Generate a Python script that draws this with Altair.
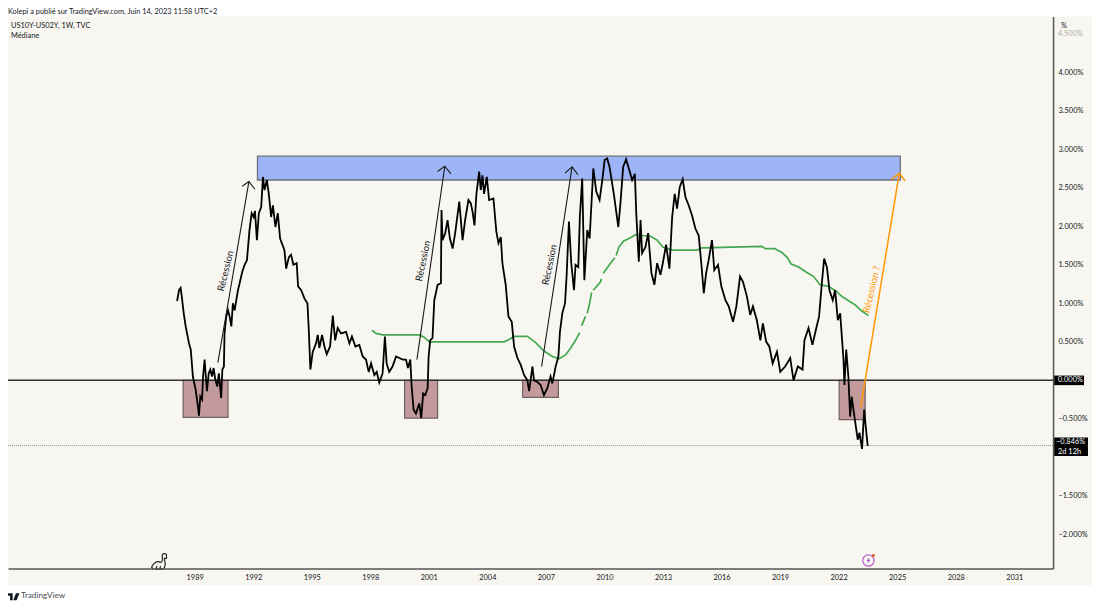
import altair as alt
import pandas as pd

BLACK_YEARS = [1988.10,1988.20,1988.28,1988.34,1988.44,1988.54,1988.71,1988.80,1988.91,1989.05,1989.17,1989.22,1989.29,1989.38,1989.43,1989.51,1989.56,1989.63,1989.72,1989.80,1989.89,1989.97,1990.06,1990.16,1990.24,1990.36,1990.42,1990.50,1990.53,1990.62,1990.71,1990.79,1990.88,1990.96,1991.05,1991.22,1991.34,1991.44,1991.56,1991.68,1991.81,1991.92,1992.02,1992.09,1992.19,1992.29,1992.41,1992.50,1992.58,1992.70,1992.80,1992.92,1993.01,1993.14,1993.26,1993.38,1993.60,1993.69,1993.83,1993.94,1994.06,1994.23,1994.30,1994.46,1994.63,1994.78,1994.85,1994.93,1995.05,1995.22,1995.31,1995.39,1995.53,1995.65,1995.77,1995.94,1996.08,1996.20,1996.33,1996.50,1996.76,1996.93,1997.06,1997.24,1997.44,1997.61,1997.78,1997.92,1998.04,1998.21,1998.33,1998.46,1998.63,1998.75,1998.84,1998.97,1999.14,1999.32,1999.49,1999.66,1999.83,1999.93,2000.05,2000.12,2000.22,2000.34,2000.51,2000.61,2000.71,2000.82,2000.94,2000.99,2001.07,2001.19,2001.28,2001.36,2001.45,2001.62,2001.65,2001.70,2001.84,2001.96,2002.08,2002.22,2002.35,
2002.56,2002.73,2002.86,2003.03,2003.15,2003.24,2003.34,2003.44,2003.58,2003.66,2003.75,2003.83,2003.97,2004.09,2004.31,2004.35,2004.46,2004.57,2004.69,2004.77,2004.94,2005.08,2005.25,2005.37,2005.54,2005.71,2005.88,2006.05,2006.14,2006.31,2006.39,2006.56,2006.73,2006.90,2007.07,2007.24,2007.33,2007.50,2007.64,2007.72,2007.84,2007.98,2008.06,2008.18,2008.30,2008.44,2008.52,2008.66,2008.74,2008.86,2008.97,2009.12,2009.24,2009.43,2009.58,2009.75,2009.89,2010.01,2010.14,2010.26,2010.48,2010.71,2010.82,2010.96,2011.11,2011.25,2011.42,2011.56,2011.63,2011.76,2011.85,2011.93,2012.10,2012.24,2012.41,2012.56,2012.70,2012.87,2012.99,2013.16,2013.33,2013.47,2013.60,2013.72,2013.86,2014.01,2014.15,2014.32,2014.49,2014.66,
2014.83,2014.97,2015.09,2015.21,2015.34,2015.51,2015.63,2015.82,2015.99,2016.20,2016.37,2016.59,2016.76,2016.95,2017.10,2017.30,2017.47,2017.61,2017.81,2017.99,2018.12,2018.29,2018.45,2018.62,2018.84,2019.01,2019.26,2019.52,2019.69,2019.91,2020.15,2020.25,2020.46,2020.66,2020.83,2021.00,2021.14,2021.26,2021.40,2021.53,2021.70,2021.82,2021.96,2022.08,2022.25,2022.30,2022.39,2022.50,2022.59,2022.67,2022.81,2022.98,2023.07,2023.20,2023.31,2023.39,2023.49]
BLACK_VALUES = [1.03,1.17,1.20,1.09,0.87,0.70,0.48,0.40,0.05,-0.12,-0.34,-0.46,-0.21,-0.25,0.05,0.27,0.09,-0.14,0.09,0.14,0.05,0.16,0.01,-0.08,0.09,-0.23,0.14,0.18,0.61,0.83,0.91,0.83,0.70,1.00,0.91,1.17,1.30,1.41,1.50,1.56,1.95,2.17,2.12,2.20,1.82,2.17,2.25,2.64,2.47,2.60,2.42,2.12,2.27,1.99,2.17,1.84,1.69,1.45,1.60,1.63,1.50,1.52,1.22,1.17,1.06,1.00,0.65,0.14,0.37,0.48,0.59,0.42,0.59,0.44,0.34,0.44,0.84,0.52,0.68,0.61,0.63,0.48,0.57,0.44,0.46,0.31,0.27,0.11,0.22,0.07,0.11,-0.03,0.09,0.57,0.22,0.11,0.18,0.31,0.29,0.27,0.27,0.16,0.27,-0.08,-0.38,-0.43,-0.30,-0.49,-0.17,-0.19,-0.10,0.31,0.52,0.55,1.04,1.13,1.24,1.26,2.21,1.82,1.91,2.08,1.84,1.71,1.91,
2.32,1.82,2.08,2.34,2.30,2.19,2.01,2.42,2.71,2.47,2.66,2.42,2.64,2.34,2.36,2.25,1.93,1.78,1.86,1.52,1.24,0.83,0.76,0.44,0.29,0.20,0.07,0.00,-0.14,0.18,0.00,-0.02,-0.06,-0.19,-0.10,0.05,-0.04,0.18,0.31,0.63,0.87,1.00,1.35,2.06,1.52,1.17,1.50,1.47,2.12,2.62,1.30,1.95,1.84,2.75,2.45,2.34,2.60,2.86,2.88,2.77,2.42,1.99,2.30,2.77,2.87,2.75,2.60,2.68,2.17,1.54,2.08,1.65,1.73,1.91,1.39,1.24,1.52,1.37,1.52,1.76,1.45,2.12,2.42,2.23,2.51,2.61,2.38,2.27,2.14,1.97,
1.88,1.50,1.13,1.39,1.56,1.82,1.43,1.50,1.22,1.04,0.96,0.76,0.96,1.35,1.28,1.09,0.85,0.96,0.78,0.52,0.74,0.50,0.44,0.22,0.37,0.11,0.18,0.29,0.00,0.18,0.14,0.52,0.68,0.46,0.65,0.83,1.26,1.58,1.47,1.17,1.04,1.17,0.78,0.87,0.27,-0.06,0.40,0.05,-0.47,-0.21,-0.47,-0.77,-0.68,-0.89,-0.38,-0.60,-0.85]

GREEN_YEARS = [1998.09,1998.29,1998.63,2000.51,2000.76,2001.02,2004.86,2005.11,2005.37,2006.05,2006.48,2006.90,2007.33,2007.67,2008.01,2008.27,2008.52,2008.73,2008.76,2008.83,2009.03,2009.08,2009.12,2009.24,2009.34,2009.38,2009.43,2009.80,2009.85,2009.89,2009.94,2010.31,2010.53,2010.56,2010.60,2010.74,2010.99,2011.34,2011.59,2011.93,2012.36,2012.70,2012.99,2013.47,2014.75,2015.00,2018.07,2018.24,2018.72,2019.09,2019.35,2019.57,2019.95,2020.37,2020.71,2021.05,2021.48,2021.91,2022.16,2022.59,2022.85,2023.19,2023.53]
GREEN_VALUES = [0.65,0.61,0.59,0.59,0.56,0.50,0.50,0.53,0.57,0.57,0.49,0.38,0.31,0.28,0.33,0.42,0.52,0.62,None,0.71,0.83,None,0.87,1.00,1.14,None,1.17,1.28,1.32,None,1.39,1.52,1.59,None,1.62,1.73,1.81,1.85,1.89,1.88,1.87,1.82,1.73,1.69,1.69,1.72,1.74,1.71,1.71,1.66,1.60,1.51,1.47,1.40,1.35,1.24,1.22,1.15,1.09,1.02,0.98,0.90,0.84]

BLUE_ZONE = [dict(a=1992.22, b=2025.16, lo=2.60, hi=2.91)]
RED_ZONES = [
    dict(a=1988.41, b=1990.71, lo=-0.48, hi=0),
    dict(a=1999.76, b=2001.45, lo=-0.49, hi=0),
    dict(a=2005.81, b=2007.64, lo=-0.22, hi=0),
    dict(a=2022.03, b=2023.36, lo=-0.51, hi=0),
]
LAST_VALUE = -0.846

BLACK_ARROWS = [
    [(1990.19, 0.23), (1991.78, 2.58)],
    [(1991.44, 2.52), (1991.78, 2.58), (1992.09, 2.48)],
    [(2000.39, 0.27), (2001.82, 2.78)],
    [(2001.45, 2.71), (2001.82, 2.78), (2002.13, 2.68)],
    [(2006.78, 0.18), (2008.34, 2.77)],
    [(2007.98, 2.69), (2008.34, 2.77), (2008.64, 2.67)],
]
ORANGE_ARROWS = [
    [(2023.13, -0.35), (2025.11, 2.69)],
    [(2024.72, 2.61), (2025.11, 2.69), (2025.40, 2.59)],
]
NOTES = [
    dict(t="Récession", year=1990.59, val=1.42, ang=284, col="#131722"),
    dict(t="Récession", year=2000.71, val=1.55, ang=282, col="#131722"),
    dict(t="Récession", year=2007.19, val=1.50, ang=282, col="#131722"),
    dict(t="Récession ?", year=2023.70, val=1.18, ang=283, col="#ff9800"),
]
YEAR_TICKS = list(range(1989, 2032, 3))
PRICE_TICKS = [4, 3.5, 3, 2.5, 2, 1.5, 1, 0.5, -0.5, -1.5, -2]

FONT = "Lato"
INK = "#131722"
PANEL = "#f8f6f1"
TICK_SIZE = 7.4

xs = alt.Scale(domain=[1979.435, 2032.99], nice=False, zero=False)
ys = alt.Scale(domain=[-2.4417, 4.7215], nice=False, zero=False)

x_axis = alt.Axis(
    values=YEAR_TICKS, format="d", ticks=False, grid=False, labelFont=FONT, labelFontSize=TICK_SIZE,
    labelColor=INK, labelPadding=5, domainColor="#555555", domainWidth=1.5, zindex=1,
    labelFlush=False, labelOverlap=False, title=None)
y_axis = alt.Axis(
    orient="right", values=PRICE_TICKS, ticks=False, grid=False, labelFont=FONT, labelFontSize=TICK_SIZE,
    labelColor=INK, labelPadding=5, domainColor="#555555", domainWidth=1.5, zindex=1,
    labelOverlap=False, title=None,
    labelExpr="replace(format(datum.value,'.3f'),'-','\u2212')+'%'")


def X(f):
    return alt.X(f, type="quantitative", scale=xs, axis=x_axis)


def Y(f):
    return alt.Y(f, type="quantitative", scale=ys, axis=y_axis)


def label(text, x, y, size=TICK_SIZE, color=INK, align="left", weight="normal", opacity=1.0):
    return alt.Chart(pd.DataFrame({"t": [text]})).mark_text(
        font=FONT, fontSize=size, color=color, align=align, baseline="middle",
        fontWeight=weight, opacity=opacity,
    ).encode(x=alt.value(x), y=alt.value(y), text="t:N")


def polylines(arrows):
    rows = []
    for n, seg in enumerate(arrows):
        for i, (yr, v) in enumerate(seg):
            rows.append(dict(seg=n, i=i, year=yr, val=v))
    return pd.DataFrame(rows)


panel = alt.Chart(pd.DataFrame({"k": [0]})).mark_rect(color=PANEL).encode(
    x=alt.value(0), x2=alt.value(1086), y=alt.value(0), y2=alt.value(570)
)

blue = alt.Chart(pd.DataFrame(BLUE_ZONE)).mark_rect(color="#9db5f6", stroke="#6b6f78", strokeWidth=1.3).encode(
    x=X("a"), x2="b", y=Y("lo"), y2="hi")
red = alt.Chart(pd.DataFrame(RED_ZONES)).mark_rect(color="#c39a9b", stroke="#6f5f60", strokeWidth=1.2).encode(
    x=X("a"), x2="b", y=Y("lo"), y2="hi")

zero_line = alt.Chart(pd.DataFrame({"val": [0.0]})).mark_rule(color="#333333", strokeWidth=1.5).encode(y=Y("val"))
last_line = alt.Chart(pd.DataFrame({"val": [LAST_VALUE]})).mark_rule(
    color="#777777", strokeWidth=0.8, strokeDash=[1, 1]).encode(y=Y("val"))

green = alt.Chart(pd.DataFrame({"year": GREEN_YEARS, "val": GREEN_VALUES})).mark_line(
    color="#43a84f", strokeWidth=1.7).encode(x=X("year"), y=Y("val"))
black = alt.Chart(pd.DataFrame({"year": BLACK_YEARS, "val": BLACK_VALUES})).mark_line(
    color="#000000", strokeWidth=1.8).encode(x=X("year"), y=Y("val"))

arrows_k = alt.Chart(polylines(BLACK_ARROWS)).mark_line(color="#1a1a1a", strokeWidth=1.1).encode(
    x=X("year"), y=Y("val"), detail="seg:N", order="i:Q")
arrows_o = alt.Chart(polylines(ORANGE_ARROWS)).mark_line(color="#ff9800", strokeWidth=1.5).encode(
    x=X("year"), y=Y("val"), detail="seg:N", order="i:Q")

notes = [
    alt.Chart(pd.DataFrame([n])).mark_text(
        font=FONT, fontSize=9.5, angle=n["ang"], color=n["col"], align="center", baseline="middle"
    ).encode(x=X("year"), y=Y("val"), text="t:N")
    for n in NOTES
]

zero_box = alt.Chart(pd.DataFrame({"a": [0.062], "b": [-0.062]})).mark_rect(color="#000000").encode(
    x=alt.value(1048), x2=alt.value(1078), y=Y("a"), y2="b")
last_box = alt.Chart(pd.DataFrame({"a": [LAST_VALUE + 0.105], "b": [LAST_VALUE - 0.135]})).mark_rect(color="#000000").encode(
    x=alt.value(1048), x2=alt.value(1082), y=Y("a"), y2="b")

DINO = ("M-0.75 0.9 L-0.95 0.65 C-0.7 0.1 -0.3 -0.1 0.1 0.1 C0.4 0.1 0.3 -0.4 0.3 -0.7 "
        "C0.3 -1 0.8 -1 0.8 -0.7 L0.8 -0.4 L0.55 -0.35 L0.65 0.3 C0.65 0.6 0.5 0.9 0.3 0.9 "
        "M-0.5 0.9 L0.3 0.9 M-0.5 0.9 L-0.3 0.55 M0 0.9 L0.1 0.55")
BOLT = "M0.25 -1 L-0.55 0.15 L-0.05 0.15 L-0.25 1 L0.55 -0.2 L0.05 -0.2 Z"
TV = "M-1 -0.5 L-0.05 -0.5 L-0.05 0.6 L-0.45 0.6 L-0.45 -0.1 L-1 -0.1 Z M0.45 -0.5 L1 -0.5 L0.55 0.6 L0.05 0.6 Z"


def glyph(shape, x, y, size, **k):
    return alt.Chart(pd.DataFrame({"k": [0]})).mark_point(shape=shape, size=size, **k).encode(
        x=alt.value(x), y=alt.value(y))


icons = [
    glyph(DINO, 152, 546, 289, stroke="#222222", strokeWidth=1.2, filled=False, opacity=1),
    glyph("circle", 862, 545, 130, stroke="#ba68c8", strokeWidth=1.3, filled=False, opacity=1),
    glyph(BOLT, 862, 545, 50, fill="#9c4fc4", filled=True, opacity=1),
    glyph("circle", 867, 540, 9, fill="#e65c2e", filled=True, opacity=1),
    glyph(TV, 5, 581, 170, fill="#131722", filled=True, opacity=1),
]

texts = [
    label("Kolepi a publié sur TradingView.com, Juin 14, 2023 11:58 UTC+2", 0, -4.5),
    label("US10Y-US02Y, 1W, TVC", 3, 9),
    label("Médiane", 3, 20),
    label("%", 1055, 9),
    label("4.500%", 1052, 17, opacity=0.35),
    label("0.000%", 1052, 364.5, color="#ffffff"),
    label("\u22120.846%", 1050, 426, color="#ffffff"),
    label("2d 12h", 1052, 436.5, color="#ffffff"),
    label("TradingView", 13, 581, size=8.2, color="#4a4e57"),
]

chart = alt.layer(
    panel, blue, red, zero_line, last_line, green, black, arrows_k, arrows_o,
    *notes, zero_box, last_box, *icons, *texts,
).properties(
    width=1047, height=553,
    padding={"left": 0, "top": 8, "right": 39, "bottom": 36},
    autosize=alt.AutoSizeParams(type="none"),
    background="#ffffff",
).configure_view(stroke=None)

chart.save("out.html", embed_options={"renderer": "svg", "actions": False})
